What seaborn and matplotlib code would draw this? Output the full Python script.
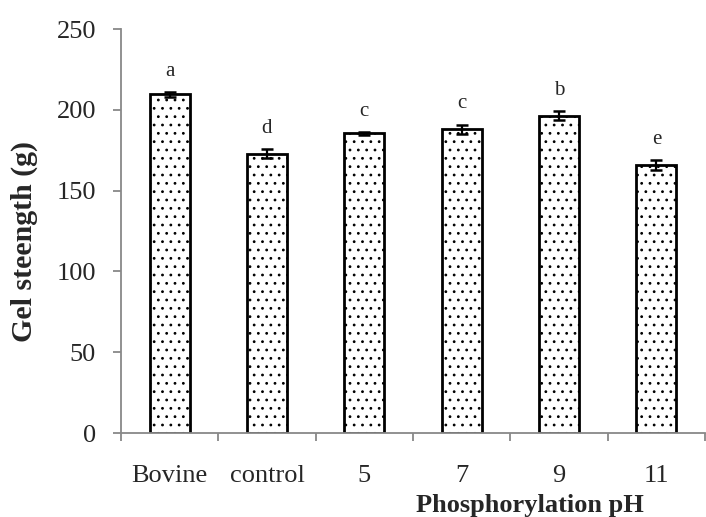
import matplotlib
matplotlib.use("Agg")
import matplotlib.pyplot as plt
import seaborn as sns
import pandas as pd
import numpy as np

categories = ["Bovine", "control", "5", "7", "9", "11"]
values = [209.6, 172.8, 185.4, 187.9, 196.3, 165.6]
errors = [1.5, 2.8, 1.0, 3.0, 2.9, 3.1]
letters = ["a", "d", "c", "c", "b", "e"]
yticks = [0, 50, 100, 150, 200, 250]

sns.set_theme(style="white")
plt.rcParams["font.family"] = ["Liberation Serif", "DejaVu Serif"]
plt.rcParams["hatch.color"] = "#555555"
plt.rcParams["hatch.linewidth"] = 0.8

df = pd.DataFrame({"cat": categories, "val": values})

# pixel geometry of the reference plot area
L, R, B, T = 121, 705, 433, 29
step = 98.3
fig = plt.figure(figsize=(7.06, 5.17), dpi=100)
ax = fig.add_axes([L/706, 1-B/517, (R-L)/706, (B-T)/517])

sns.barplot(data=df, x="cat", y="val", ax=ax, color="white", width=0.41,
            edgecolor="black", linewidth=2.0, errorbar=None, order=categories)
for p in ax.patches:
    p.set_hatch("..")

xs = np.arange(len(categories))
ax.errorbar(xs, values, yerr=errors, fmt="none", ecolor="black",
            elinewidth=1.6, capsize=4.2, capthick=1.8, zorder=5)
for x, v, e, l in zip(xs, values, errors, letters):
    ax.annotate(l, (x, v + e), xytext=(0, 8), textcoords="offset points",
                ha="center", va="bottom", fontsize=15)

ax.set_xlim(-0.5, -0.5 + (R-L)/step)
ax.set_ylim(0, 250)
ax.set_yticks(yticks)
ax.set_yticklabels([str(t) for t in yticks], fontsize=19)

ax.set_xticks(np.arange(len(categories) + 1) - 0.5)
ax.set_xticklabels([])
ax.set_xticks(xs, minor=True)
ax.set_xticklabels(categories, minor=True, fontsize=19)
ax.tick_params(axis="x", which="major", direction="out", length=6, width=1.3,
               color="#888888", bottom=True)
ax.tick_params(axis="x", which="minor", length=0, pad=23, bottom=True)
ax.tick_params(axis="y", direction="out", length=6, width=1.3,
               color="#888888", left=True, pad=12)

for s in ["top", "right"]:
    ax.spines[s].set_visible(False)
for s in ["left", "bottom"]:
    ax.spines[s].set_color("#888888")
    ax.spines[s].set_linewidth(1.3)

ax.set_xlabel("Phosphorylation pH", fontsize=19, fontweight="bold",
              ha="left", va="baseline")
ax.xaxis.set_label_coords((416-L)/(R-L), -(512-B)/(B-T))
ax.set_ylabel("Gel steength (g)", fontsize=21.5, fontweight="bold")
ax.yaxis.set_label_coords(-(L-38)/(R-L), (B-241)/(B-T))

fig.savefig("out.png", dpi=100)
